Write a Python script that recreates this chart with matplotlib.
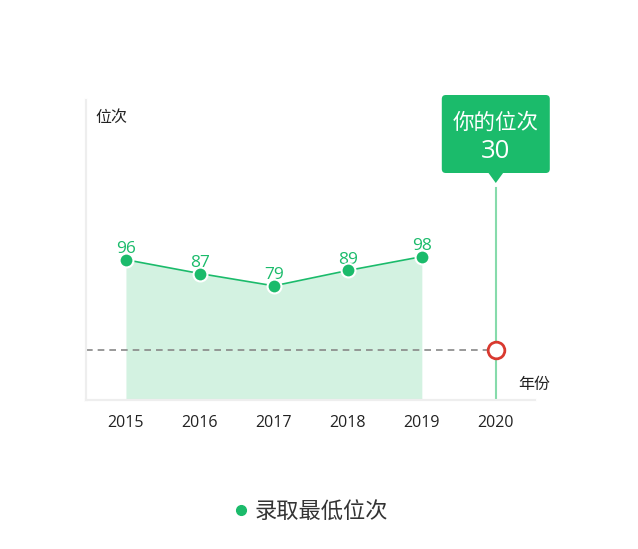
from matplotlib import pyplot as plt
from matplotlib.patches import FancyBboxPatch, Polygon
from matplotlib.lines import Line2D

plt.rcParams['font.family'] = ['Open Sans', 'Noto Sans CJK SC', 'DejaVu Sans']

years = ['2015', '2016', '2017', '2018', '2019', '2020']
ranks = [96, 87, 79, 89, 98]   # 录取最低位次, 2015-2019
my_rank = 30                   # 你的位次 (2020)

green = '#1bbb6b'
fill_green = '#d3f2e1'
line_green = '#86dbab'
red = '#d9392f'

fig = plt.figure(figsize=(6.38, 5.49), dpi=100)
ax = fig.add_axes([86 / 638, 1 - 399.5 / 549, 449 / 638, 299.5 / 549])
ax2 = ax.twinx()

xs = list(range(len(ranks)))
ax.set_xlim(-0.54, 5.53)
ax.set_ylim(5, 200)
ax2.set_ylim(0, 180)

# area + line + points
ax.fill_between(xs, 5, ranks, color=fill_green, lw=0, zorder=1)
ax.plot(xs, ranks, color=green, lw=1.2, zorder=3)
ax.plot(xs, ranks, 'o', ms=10, mfc=green, mec='white', mew=1.5, zorder=4)
for x, v in zip(xs, ranks):
    ax.annotate(str(v), (x, v), xytext=(0, 7.5), textcoords='offset points',
                ha='center', va='center', color=green, fontsize=12.5)

# my rank marker on the secondary scale
ax2.hlines(my_rank, -0.54, 5, colors='#888888', linestyles=(0, (4, 3)), lw=1.2, zorder=2)
ax2.plot([5], [my_rank], 'o', ms=12, mfc='white', mec=red, mew=2, zorder=5)

# tooltip above 2020
fig.canvas.draw()
cx, _ = ax.transData.transform((5, 0))
top_px = ax.transAxes.transform((0, 1))[1]
box_w, box_h = 108, 78
box_top = top_px + 5
box_bot = box_top - box_h
tip = box_bot - 10
ax.axvline(5, ymin=0, ymax=1 - (box_top - tip) / 299.5, color=line_green, lw=1.5, zorder=2)
fig.patches.append(FancyBboxPatch((cx - box_w / 2, box_bot), box_w, box_h,
                                  boxstyle='round,pad=0,rounding_size=4',
                                  fc=green, ec='none', transform=None, zorder=6))
fig.patches.append(Polygon([(cx - 8, box_bot + 1), (cx + 8, box_bot + 1), (cx, tip)],
                           closed=True, fc=green, ec='none', transform=None, zorder=6))
fx = cx / fig.bbox.width
fig.text(fx, (box_bot + 50) / fig.bbox.height, '你的位次', color='white', fontsize=15.5,
         ha='center', va='center', zorder=7)
fig.text(fx, (box_bot + 22) / fig.bbox.height, str(my_rank), color='white', fontsize=18.5,
         ha='center', va='center', zorder=7)

# axes styling
ax.set_xticks(range(len(years)))
ax.set_xticklabels(years, fontsize=11.5, color='#222222')
ax.tick_params(axis='x', length=0, pad=11.5)
ax.set_yticks([])
ax2.set_yticks([])
for a in (ax, ax2):
    a.spines['top'].set_visible(False)
    a.spines['right'].set_visible(False)
    a.spines['left'].set_color('#eeeeee')
    a.spines['bottom'].set_color('#eeeeee')
    a.spines['left'].set_linewidth(1.5)
    a.spines['bottom'].set_linewidth(1.5)

ax.text(0.022, 0.94, '位次', transform=ax.transAxes, fontsize=11.5, color='#222222',
        ha='left', va='center')
ax.text(1.033, 0.048, '年份', transform=ax.transAxes, fontsize=11.5, color='#222222',
        ha='right', va='center')

handle = Line2D([], [], marker='o', ls='none', ms=7, mfc=green, mec=green)
fig.legend([handle], ['录取最低位次'], loc='center', bbox_to_anchor=(0.482, 1 - 512 / 549),
           frameon=False, fontsize=16, labelcolor='#333333', handletextpad=0.0,
           handlelength=1.2)

fig.savefig('out.png', dpi=100)
